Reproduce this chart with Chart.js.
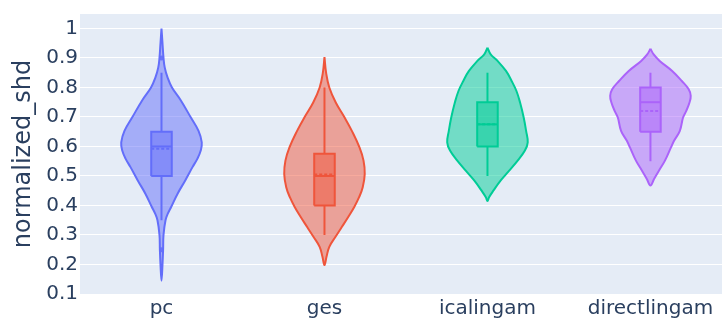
<!DOCTYPE html>
<html>
<head>
<meta charset="utf-8">
<script src="https://cdn.jsdelivr.net/npm/chart.js@4.4.0/dist/chart.umd.min.js"></script>
<style>
  html, body { margin: 0; padding: 0; background: #ffffff; }
  #wrap { width: 726px; height: 323px; }
</style>
</head>
<body>
<div id="wrap"><canvas id="chart" width="726" height="323"></canvas></div>
<script>
// Methods compared on normalized SHD
const CATEGORIES = ['pc', 'ges', 'icalingam', 'directlingam'];
const COLORS = ['#636efa', '#EF553B', '#00cc96', '#ab63fa'];
const Y_TICKS = [0.1, 0.2, 0.3, 0.4, 0.5, 0.6, 0.7, 0.8, 0.9, 1];

// Kernel density profiles: level on the y axis and relative density (1 = widest)
const PC_LEVELS = [1.0, 0.95, 0.9, 0.868, 0.834, 0.8, 0.755, 0.698, 0.653, 0.614, 0.586, 0.558, 0.53, 0.485, 0.44, 0.395, 0.373, 0.35, 0.3, 0.25, 0.2, 0.145];
const PC_DENSITY = [0, 0.025, 0.05, 0.08, 0.15, 0.26, 0.485, 0.73, 0.92, 1.0, 0.975, 0.89, 0.77, 0.59, 0.40, 0.24, 0.16, 0.1, 0.05, 0.04, 0.025, 0];

const GES_LEVELS = [0.903, 0.85, 0.8, 0.749, 0.698, 0.653, 0.597, 0.552, 0.507, 0.462, 0.428, 0.395, 0.361, 0.327, 0.293, 0.26, 0.226, 0.198];
const GES_DENSITY = [0, 0.04, 0.12, 0.28, 0.5, 0.68, 0.87, 0.97, 1.0, 0.95, 0.86, 0.74, 0.59, 0.43, 0.27, 0.12, 0.05, 0];

const ICA_LEVELS = [0.935, 0.912, 0.89, 0.856, 0.822, 0.788, 0.749, 0.698, 0.653, 0.614, 0.586, 0.552, 0.518, 0.485, 0.451, 0.428, 0.415];
const ICA_DENSITY = [0, 0.08, 0.25, 0.46, 0.6, 0.72, 0.81, 0.9, 0.96, 1.0, 0.93, 0.75, 0.54, 0.33, 0.15, 0.04, 0];

const DIRECT_LEVELS = [0.931, 0.912, 0.89, 0.856, 0.822, 0.794, 0.772, 0.749, 0.721, 0.698, 0.653, 0.62, 0.597, 0.552, 0.518, 0.49, 0.468];
const DIRECT_DENSITY = [0, 0.08, 0.23, 0.54, 0.78, 0.95, 1.0, 0.97, 0.89, 0.81, 0.73, 0.59, 0.51, 0.36, 0.21, 0.09, 0];

const LEVELS = [PC_LEVELS, GES_LEVELS, ICA_LEVELS, DIRECT_LEVELS];
const DENSITY = [PC_DENSITY, GES_DENSITY, ICA_DENSITY, DIRECT_DENSITY];

// Inner box statistics
const Q1 = [0.5, 0.4, 0.6, 0.65];
const MEDIAN = [0.6, 0.5, 0.675, 0.75];
const Q3 = [0.65, 0.575, 0.75, 0.8];
const MEAN = [0.592, 0.505, 0.675, 0.72];
const WHISKER_LO = [0.35, 0.3, 0.5, 0.55];
const WHISKER_HI = [0.85, 0.8, 0.85, 0.85];
const OUTLIERS = [[0.9, 0.25], [], [], []];

// Drawing constants (in category units)
const VIOLIN_HALF = 0.247;
const BOX_HALF = 0.063;
const FONT = '"DejaVu Sans", Verdana, sans-serif';
const TEXT = '#2a3f5f';

function rgba(hex, a) {
  const n = parseInt(hex.slice(1), 16);
  return `rgba(${(n >> 16) & 255},${(n >> 8) & 255},${n & 255},${a})`;
}

const datasets = [];
CATEGORIES.forEach((cat, i) => {
  const col = COLORS[i];
  const lv = LEVELS[i], dn = DENSITY[i];
  // violin outline: right side top->bottom, then left side bottom->top
  const outline = [];
  for (let k = 0; k < lv.length; k++) outline.push({ x: i + dn[k] * VIOLIN_HALF, y: lv[k] });
  for (let k = lv.length - 2; k >= 1; k--) outline.push({ x: i - dn[k] * VIOLIN_HALF, y: lv[k] });
  outline.push({ x: i, y: lv[0] });
  datasets.push({
    label: cat, data: outline, showLine: true, fill: 'shape', tension: 0.4,
    backgroundColor: rgba(col, 0.5), borderColor: col, borderWidth: 2,
    pointRadius: 0, order: 4
  });
  // whiskers
  datasets.push({ data: [{ x: i, y: WHISKER_LO[i] }, { x: i, y: Q1[i] }], showLine: true,
    borderColor: col, borderWidth: 2, pointRadius: 0, order: 3 });
  datasets.push({ data: [{ x: i, y: Q3[i] }, { x: i, y: WHISKER_HI[i] }], showLine: true,
    borderColor: col, borderWidth: 2, pointRadius: 0, order: 3 });
  // box
  datasets.push({
    data: [{ x: i - BOX_HALF, y: Q1[i] }, { x: i + BOX_HALF, y: Q1[i] }, { x: i + BOX_HALF, y: Q3[i] },
           { x: i - BOX_HALF, y: Q3[i] }, { x: i - BOX_HALF, y: Q1[i] }],
    showLine: true, fill: 'shape', tension: 0, backgroundColor: rgba(col, 0.5),
    borderColor: col, borderWidth: 2, pointRadius: 0, order: 2
  });
  // median and mean
  datasets.push({ data: [{ x: i - BOX_HALF, y: MEDIAN[i] }, { x: i + BOX_HALF, y: MEDIAN[i] }], showLine: true,
    borderColor: col, borderWidth: 2, pointRadius: 0, order: 1 });
  datasets.push({ data: [{ x: i - BOX_HALF, y: MEAN[i] }, { x: i + BOX_HALF, y: MEAN[i] }], showLine: true,
    borderColor: col, borderWidth: 2, borderDash: [3, 2], pointRadius: 0, order: 1 });
  // outlying points
  if (OUTLIERS[i].length) {
    datasets.push({ data: OUTLIERS[i].map(v => ({ x: i, y: v })), showLine: false,
      pointRadius: 2.5, pointBackgroundColor: rgba(col, 0.9), pointBorderWidth: 0, order: 0 });
  }
});

const plotBackground = {
  id: 'plotBackground',
  beforeDraw(chart) {
    const { ctx, chartArea: a } = chart;
    ctx.save();
    ctx.fillStyle = '#E5ECF6';
    ctx.fillRect(a.left, a.top, a.right - a.left, a.bottom - a.top);
    ctx.restore();
  }
};

new Chart(document.getElementById('chart'), {
  type: 'scatter',
  data: { datasets },
  plugins: [plotBackground],
  options: {
    responsive: false,
    animation: false,
    layout: { padding: { top: 13, right: 0, bottom: 0, left: 0 } },
    plugins: { legend: { display: false }, tooltip: { enabled: false } },
    scales: {
      x: {
        type: 'linear', min: -0.5, max: 3.439,
        afterFit(s) { s.height = 29; },
        afterBuildTicks(s) { s.ticks = CATEGORIES.map((_, i) => ({ value: i })); },
        grid: { display: false, drawTicks: false },
        border: { display: false },
        ticks: {
          padding: 3, color: TEXT, font: { family: FONT, size: 20 },
          callback: v => CATEGORIES[v]
        }
      },
      y: {
        type: 'linear', min: 0.1, max: 1.049,
        afterFit(s) { s.width = 80; },
        afterBuildTicks(s) { s.ticks = Y_TICKS.map(v => ({ value: v })); },
        grid: { color: '#ffffff', lineWidth: 1, drawTicks: false },
        border: { display: false },
        ticks: {
          padding: 2, color: TEXT, font: { family: FONT, size: 20 },
          callback: v => String(Number(v.toFixed(2)))
        },
        title: {
          display: true, text: 'normalized_shd', color: TEXT,
          font: { family: FONT, size: 24 }, padding: { top: 9, bottom: 0 }
        }
      }
    }
  }
});
</script>
</body>
</html>
